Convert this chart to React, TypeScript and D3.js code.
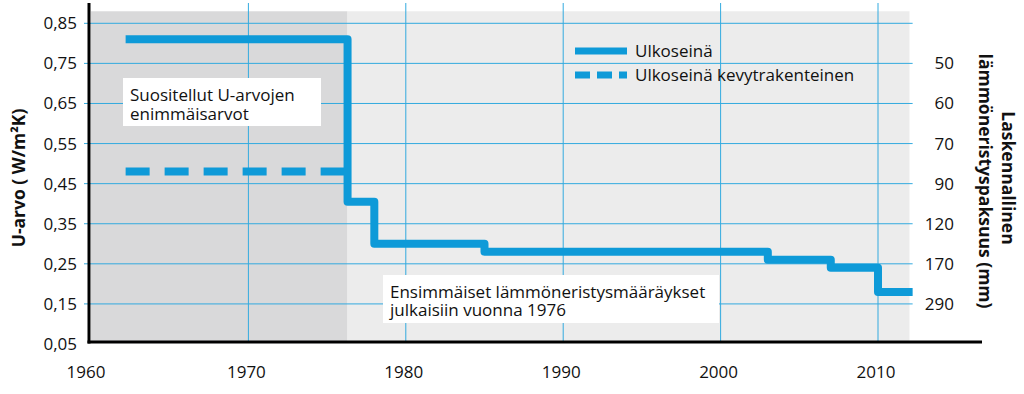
import React from "react";
import * as d3 from "d3";

const stepYears = [1962.2, 1976.3, 1978, 1985, 2003, 2007, 2010, 2012.2];
const solidValues = [0.81, 0.405, 0.3, 0.28, 0.26, 0.24, 0.18, 0.18];
const dashedYears = [1962.2, 1976.3];
const dashedValues = [0.48, 0.48];
const yTicks = [0.05, 0.15, 0.25, 0.35, 0.45, 0.55, 0.65, 0.75, 0.85];
const rightTickValues = [0.75, 0.65, 0.55, 0.45, 0.35, 0.25, 0.15];
const rightTickLabels = ["50", "60", "70", "90", "120", "170", "290"];
const xTicks = [1960, 1970, 1980, 1990, 2000, 2010];
const legendLabels = ["Ulkoseinä", "Ulkoseinä kevytrakenteinen"];
const note1 = ["Suositellut U-arvojen", "enimmäisarvot"];
const note2 = ["Ensimmäiset lämmöneristysmääräykset", "julkaisiin vuonna 1976"];

const BLUE = "#0e9ad8";
const GRID = "#33aadf";
const FONT = "'Open Sans', 'Noto Sans', sans-serif";
const FS = 17;

export default function App() {
  const x = d3.scaleLinear().domain([1960, 2010]).range([91, 878]);
  const y = d3.scaleLinear().domain([0.05, 0.85]).range([344, 23.3]);
  const line = d3
    .line<[number, number]>()
    .x((d) => x(d[0]))
    .y((d) => y(d[1]))
    .curve(d3.curveStepAfter);
  const solidPts = stepYears.map((yr, i) => [yr, solidValues[i]] as [number, number]);
  const dashedPts = dashedYears.map((yr, i) => [yr, dashedValues[i]] as [number, number]);
  const split = 1976.3;
  const yTop = y(0.88);
  const yBot = 342;
  const fmt = (v: number) => v.toFixed(2).replace(".", ",");

  return (
    <svg
      width={1024}
      height={394}
      style={{ position: "absolute", left: 0, top: 0, background: "#fff" }}
      fontFamily={FONT}
    >
      {/* backgrounds */}
      <rect x={x(1960)} y={yTop} width={x(split) - x(1960)} height={yBot - yTop} fill="#d9d9da" />
      <rect x={x(split)} y={yTop} width={x(2012) - x(split)} height={yBot - yTop} fill="#ececec" />

      {/* horizontal grid */}
      {yTicks.slice(1).map((v) => (
        <line key={v} x1={84} x2={x(2012.2)} y1={y(v)} y2={y(v)} stroke={GRID} strokeWidth={1} />
      ))}
      {/* vertical grid */}
      {xTicks.slice(1).map((t) => (
        <line key={t} x1={x(t)} x2={x(t)} y1={3} y2={yBot} stroke={GRID} strokeWidth={1} />
      ))}

      {/* annotation boxes */}
      <rect x={123} y={78} width={198} height={48} fill="#fff" />
      <text x={130} y={101} fontSize={FS} fill="#111">
        <tspan x={130} dy={0}>{note1[0]}</tspan>
        <tspan x={130} dy={19}>{note1[1]}</tspan>
      </text>

      <rect x={383} y={275} width={336} height={48} fill="#fff" />
      <text x={390} y={298} fontSize={FS} fill="#111">
        <tspan x={390} dy={0}>{note2[0]}</tspan>
        <tspan x={390} dy={18}>{note2[1]}</tspan>
      </text>

      {/* data lines */}
      <path d={line(dashedPts) || ""} fill="none" stroke={BLUE} strokeWidth={8} strokeDasharray="24 15" />
      <path d={line(solidPts) || ""} fill="none" stroke={BLUE} strokeWidth={8} strokeLinejoin="round" />

      {/* axes */}
      <line x1={89} x2={89} y1={3} y2={343.5} stroke="#000" strokeWidth={3} />
      <line x1={87.5} x2={982} y1={342} y2={342} stroke="#000" strokeWidth={3} />

      {/* left ticks */}
      {yTicks.map((v) => (
        <text key={v} x={77} y={y(v) + 6} fontSize={FS} textAnchor="end" fill="#111">
          {fmt(v)}
        </text>
      ))}
      {/* right ticks */}
      {rightTickValues.map((v, i) => (
        <text key={v} x={954} y={y(v) + 6} fontSize={FS} textAnchor="end" fill="#111">
          {rightTickLabels[i]}
        </text>
      ))}
      {/* x ticks */}
      {xTicks.map((t) => (
        <text key={t} x={x(t) - (t === 1960 ? 5 : 2)} y={378} fontSize={FS} textAnchor="middle" fill="#111">
          {t}
        </text>
      ))}

      {/* axis titles */}
      <text
        transform="translate(25,178) rotate(-90)"
        fontSize={17.5}
        fontWeight="bold"
        textAnchor="middle"
        fill="#111"
      >
        U-arvo ( W/m²K)
      </text>
      <text
        transform="translate(1002,178) rotate(90)"
        fontSize={17.5}
        fontWeight="bold"
        textAnchor="middle"
        fill="#111"
      >
        Laskennallinen
      </text>
      <text
        transform="translate(979,181) rotate(90)"
        fontSize={17.5}
        fontWeight="bold"
        textAnchor="middle"
        fill="#111"
      >
        lämmöneristyspaksuus (mm)
      </text>

      {/* legend */}
      <line x1={575} x2={627} y1={51} y2={51} stroke={BLUE} strokeWidth={7} />
      <text x={635} y={57} fontSize={FS} fill="#111">{legendLabels[0]}</text>
      <line x1={575} x2={627} y1={75} y2={75} stroke={BLUE} strokeWidth={7} strokeDasharray="15 7" />
      <text x={635} y={81} fontSize={FS} fill="#111">{legendLabels[1]}</text>
    </svg>
  );
}
